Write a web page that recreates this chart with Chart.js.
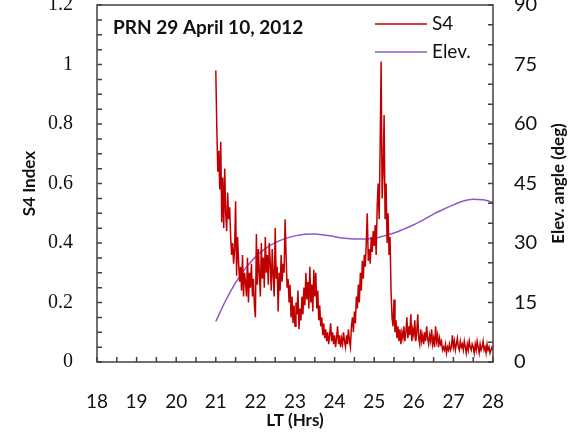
<!DOCTYPE html>
<html>
<head>
<meta charset="utf-8">
<script src="https://cdn.jsdelivr.net/npm/chart.js@4/dist/chart.umd.min.js"></script>
<style>
  html, body { margin: 0; padding: 0; background: #fff; }
  #grafica { display: block; }
</style>
</head>
<body>
<canvas id="grafica" width="579" height="434"></canvas>
<script>
// S4 samples, one every 0.025 h starting at 21.0 LT
const s4Start = 21.0;
const s4Step = 0.025;
const s4Values = [
  0.98, 0.79, 0.64, 0.71, 0.58, 0.74, 0.47, 0.62, 0.45, 0.65,
  0.50, 0.44, 0.57, 0.48, 0.52, 0.42, 0.36, 0.40, 0.33, 0.38,
  0.54, 0.29, 0.42, 0.34, 0.27, 0.32, 0.24, 0.36, 0.22, 0.30,
  0.27, 0.22, 0.35, 0.20, 0.30, 0.25, 0.33, 0.22, 0.28, 0.19,
  0.15, 0.43, 0.26, 0.38, 0.30, 0.22, 0.40, 0.28, 0.35, 0.25,
  0.42, 0.30, 0.36, 0.26, 0.40, 0.33, 0.24, 0.38, 0.29, 0.22,
  0.45, 0.28, 0.32, 0.17, 0.30, 0.24, 0.36, 0.27, 0.33, 0.30,
  0.48, 0.36, 0.25, 0.28, 0.20, 0.26, 0.15, 0.22, 0.13, 0.19,
  0.12, 0.20, 0.16, 0.24, 0.11, 0.18, 0.14, 0.22, 0.16, 0.25,
  0.19, 0.30, 0.21, 0.27, 0.18, 0.32, 0.20, 0.26, 0.17, 0.31,
  0.22, 0.30, 0.18, 0.24, 0.14, 0.19, 0.12, 0.15, 0.09, 0.13,
  0.08, 0.11, 0.07, 0.10, 0.06, 0.09, 0.13, 0.07, 0.10, 0.06,
  0.09, 0.05, 0.08, 0.12, 0.06, 0.09, 0.05, 0.08, 0.06, 0.10,
  0.07, 0.05, 0.09, 0.06, 0.11, 0.07, 0.05, 0.12, 0.15, 0.10,
  0.17, 0.13, 0.22, 0.18, 0.26, 0.20, 0.30, 0.24, 0.34, 0.28,
  0.36, 0.32, 0.40, 0.50, 0.34, 0.38, 0.33, 0.42, 0.37, 0.44,
  0.39, 0.46, 0.36, 0.52, 0.60, 0.48, 0.72, 1.01, 0.55, 0.64,
  0.83, 0.48, 0.60, 0.40, 0.50, 0.36, 0.42, 0.24, 0.15, 0.12,
  0.21, 0.10, 0.14, 0.08, 0.12, 0.07, 0.11, 0.06, 0.10, 0.08,
  0.12, 0.07, 0.10, 0.15, 0.08, 0.12, 0.09, 0.16, 0.07, 0.11,
  0.09, 0.14, 0.07, 0.10, 0.16, 0.08, 0.06, 0.11, 0.07, 0.09,
  0.06, 0.10, 0.07, 0.12, 0.08, 0.06, 0.09, 0.07, 0.11, 0.06,
  0.08, 0.05, 0.12, 0.07, 0.09, 0.05, 0.08, 0.06, 0.07, 0.04,
  0.05, 0.04, 0.06, 0.03, 0.05, 0.04, 0.06, 0.04, 0.05, 0.09,
  0.05, 0.07, 0.04, 0.06, 0.08, 0.05, 0.04, 0.07, 0.05, 0.06,
  0.04, 0.07, 0.05, 0.03, 0.06, 0.04, 0.07, 0.05, 0.04, 0.06,
  0.05, 0.03, 0.06, 0.04, 0.07, 0.05, 0.03, 0.06, 0.04, 0.05,
  0.07, 0.04, 0.05, 0.03, 0.06, 0.04, 0.05, 0.03, 0.04, 0.05,
  0.04
];

// Elevation angle (deg)
const elevTimes = [21.0, 21.25, 21.5, 21.75, 22.0, 22.25, 22.5, 22.75, 23.0, 23.25,
  23.5, 23.75, 24.0, 24.25, 24.5, 24.75, 25.0, 25.25, 25.5, 25.75,
  26.0, 26.25, 26.5, 26.75, 27.0, 27.25, 27.5, 27.75, 28.0];
const elevValues = [10.2, 15.5, 20.0, 23.6, 26.5, 28.6, 30.1, 31.1, 31.8, 32.2,
  32.3, 32.0, 31.6, 31.2, 31.0, 31.0, 31.2, 31.8, 32.5, 33.5,
  34.6, 35.9, 37.3, 38.5, 39.6, 40.6, 41.0, 40.9, 40.2];

const xTicks = [18, 19, 20, 21, 22, 23, 24, 25, 26, 27, 28];
const titulo = "PRN 29 April 10, 2012";

const puntosS4 = s4Values.map((v, i) => ({ x: s4Start + i * s4Step, y: v }));
const puntosElev = elevValues.map((v, i) => ({ x: elevTimes[i], y: v }));

const rojo = '#c00000';
const morado = '#8a5ac8';
const sans = 'Lato, "Open Sans", sans-serif';
const serif = '"Liberation Serif", "DejaVu Serif", serif';

// sin relleno extra de las etiquetas
const sinPadding = (s, ancho, alto) => {
  if (ancho) s.width = ancho;
  if (alto) s.height = alto;
  s.paddingTop = 0; s.paddingBottom = 0; s.paddingLeft = 0; s.paddingRight = 0;
};

// marco, marcas internas, titulo y leyenda
const marco = {
  id: 'marco',
  afterDraw(chart) {
    const ctx = chart.ctx;
    const a = chart.chartArea;
    const sx = chart.scales.x, sy = chart.scales.y, sy2 = chart.scales.y2;
    ctx.save();
    ctx.strokeStyle = '#404040';
    ctx.lineWidth = 1.5;
    ctx.strokeRect(a.left, a.top, a.right - a.left, a.bottom - a.top);
    ctx.beginPath();
    for (let v = 18; v <= 28.001; v += 0.5) {
      const px = sx.getPixelForValue(v);
      ctx.moveTo(px, a.bottom); ctx.lineTo(px, a.bottom - 5);
    }
    for (let v = 0; v <= 1.2001; v += 0.05) {
      const py = sy.getPixelForValue(v);
      ctx.moveTo(a.left, py); ctx.lineTo(a.left + 5, py);
    }
    for (let v = 0; v <= 90.001; v += 5) {
      const py = sy2.getPixelForValue(v);
      ctx.moveTo(a.right, py); ctx.lineTo(a.right - 5, py);
    }
    ctx.stroke();

    // titulo interno
    ctx.fillStyle = '#111';
    ctx.font = 'bold 19px ' + sans;
    ctx.textBaseline = 'middle';
    ctx.textAlign = 'left';
    ctx.fillText(titulo, a.left + 16, 28);

    // leyenda
    ctx.lineWidth = 1.5;
    ctx.strokeStyle = rojo;
    ctx.beginPath(); ctx.moveTo(375, 24); ctx.lineTo(427, 24); ctx.stroke();
    ctx.strokeStyle = morado;
    ctx.beginPath(); ctx.moveTo(375, 52); ctx.lineTo(427, 52); ctx.stroke();
    ctx.font = '19px ' + sans;
    ctx.fillText('S4', 432, 24);
    ctx.fillText('Elev.', 432, 52);

    // titulo del eje derecho, leido de abajo hacia arriba
    ctx.translate(559, (a.top + a.bottom) / 2);
    ctx.rotate(-Math.PI / 2);
    ctx.textAlign = 'center';
    ctx.font = 'bold 17px ' + sans;
    ctx.fillText('Elev. angle (deg)', 0, 0);
    ctx.restore();
  }
};

new Chart(document.querySelector('#grafica'), {
  type: 'line',
  data: {
    datasets: [
      { label: 'S4', data: puntosS4, yAxisID: 'y', borderColor: rojo, borderWidth: 1.5, pointRadius: 0, tension: 0 },
      { label: 'Elev.', data: puntosElev, yAxisID: 'y2', borderColor: morado, borderWidth: 1.5, pointRadius: 0, tension: 0.4, cubicInterpolationMode: 'monotone' }
    ]
  },
  options: {
    responsive: false,
    animation: false,
    layout: { padding: { top: 5, left: 0, right: 0, bottom: 0 } },
    plugins: { legend: { display: false }, tooltip: { enabled: false } },
    scales: {
      x: {
        type: 'linear', min: 18, max: 28,
        afterBuildTicks: s => { s.ticks = xTicks.map(v => ({ value: v })); },
        afterFit: s => sinPadding(s, 0, 72),
        grid: { display: false, drawTicks: false },
        border: { display: false },
        ticks: { color: '#111', font: { family: sans, size: 19 }, padding: 28, maxRotation: 0 },
        title: { display: true, text: 'LT (Hrs)', color: '#111', font: { family: sans, size: 17, weight: 'bold' }, padding: { top: 0, bottom: 3 } }
      },
      y: {
        position: 'left', min: 0, max: 1.2,
        afterFit: s => sinPadding(s, 97, 0),
        grid: { display: false, drawTicks: false },
        border: { display: false },
        ticks: { stepSize: 0.2, color: '#111', font: { family: serif, size: 20 }, padding: 24,
          callback: v => String(+v.toFixed(2)) },
        title: { display: true, text: 'S4 Index', color: '#111', font: { family: sans, size: 17, weight: 'bold' }, padding: { top: 19, bottom: 0 } }
      },
      y2: {
        position: 'right', min: 0, max: 90,
        afterFit: s => sinPadding(s, 86, 0),
        grid: { display: false, drawTicks: false },
        border: { display: false },
        ticks: { stepSize: 15, color: '#111', font: { family: sans, size: 20 }, padding: 21 },
        title: { display: false }
      }
    }
  },
  plugins: [marco]
});
</script>
</body>
</html>
